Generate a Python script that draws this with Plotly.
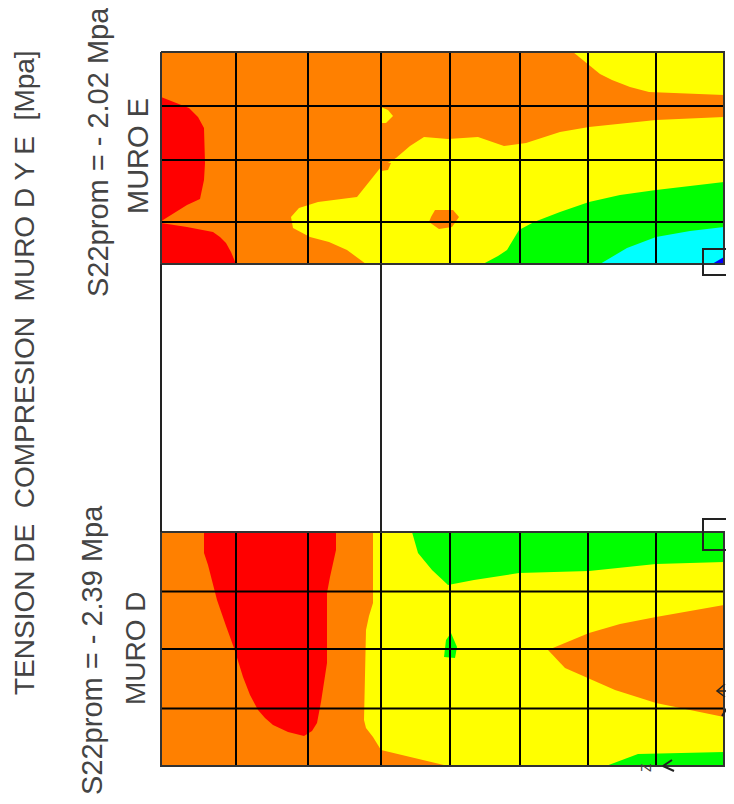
import plotly.graph_objects as go

ORANGE, RED, YELLOW, GREEN, CYAN, BLUE = "#ff8000", "#ff0000", "#ffff00", "#00ff00", "#00ffff", "#0000ff"

# ---- regions, in picture units (x across, y down) ----
E_base_x = [161, 724, 724, 161]
E_base_y = [52, 52, 264, 264]
E_red1_x = [161, 176, 189, 198, 204, 205, 204, 200, 187, 163, 161]
E_red1_y = [97, 103, 108, 117, 128, 163, 180, 199, 205, 220, 222]
E_red2_x = [161, 187, 213, 220, 226, 231, 236, 161]
E_red2_y = [223, 227, 232, 237, 243, 252, 264, 264]
E_yel_top_x = [573, 589, 600, 612, 630, 649, 724, 724]
E_yel_top_y = [52, 65, 74, 80, 87, 92, 95, 52]
E_yel_x = [366, 347, 329, 310, 293, 291, 299, 318, 357, 381, 396, 410, 424, 448, 478, 490, 504, 526, 560, 589, 656, 724, 724]
E_yel_y = [264, 250, 242, 237, 228, 217, 208, 202, 197, 167, 158, 146, 137, 139, 137, 141, 146, 143, 132, 127, 120, 117, 264]
E_grn_x = [483, 498, 507, 513, 519, 534, 560, 589, 620, 656, 724, 724]
E_grn_y = [264, 256, 250, 240, 230, 222, 212, 202, 195, 190, 182, 264]
E_cyn_x = [600, 627, 656, 690, 724, 724]
E_cyn_y = [264, 248, 237, 231, 227, 264]
E_blu_x = [712, 722, 724, 724]
E_blu_y = [264, 258, 257, 264]
E_blob_x = [431, 435, 453, 459, 452, 439, 429]
E_blob_y = [217, 210, 210, 217, 227, 229, 222]
E_ysp_x = [381, 388, 393, 386, 381]
E_ysp_y = [107, 110, 116, 123, 123]
E_bump_x = [381, 391, 388, 381]
E_bump_y = [162, 163, 170, 171]

D_base_x = [161, 724, 724, 161]
D_base_y = [532, 532, 766, 766]
D_yel_x = [373, 373, 369, 366, 364, 366, 373, 381, 448, 724, 724]
D_yel_y = [532, 603, 616, 630, 720, 728, 737, 750, 766, 766, 532]
D_red_x = [204, 204, 208, 211, 217, 226, 234, 243, 250, 258, 265, 273, 288, 304, 312, 317, 321, 327, 327, 330, 336, 336]
D_red_y = [532, 553, 565, 577, 600, 626, 648, 677, 695, 710, 718, 725, 732, 736, 731, 723, 702, 663, 593, 577, 550, 532]
D_grn_x = [412, 418, 432, 448, 474, 519, 589, 656, 724, 724]
D_grn_y = [532, 553, 570, 585, 580, 573, 571, 564, 562, 532]
D_org_x = [548, 589, 620, 656, 724, 724, 656, 615, 565]
D_org_y = [650, 633, 624, 617, 605, 717, 703, 690, 668]
D_spot_x = [451, 457, 455, 444, 446]
D_spot_y = [633, 647, 658, 657, 640]
D_gbot_x = [606, 638, 724, 724]
D_gbot_y = [766, 754, 752, 766]

mesh_x = [236, 308, 381, 450, 520, 588, 656]
E_mesh_y = [106, 160, 222]
D_mesh_y = [591.5, 649, 708.5]
wall_left, wall_right = 161, 724
E_top, E_bot, D_top, D_bot = 52, 264, 532, 766

box_x = [734, 703, 703, 734, 734]
box1_y = [249, 249, 275, 275, 249]
box2_y = [519, 519, 550, 550, 519]

fig = go.Figure()

def region(x, y, color):
    fig.add_trace(go.Scatter(x=x, y=y, mode="lines", fill="toself", fillcolor=color,
                             line=dict(width=0, color=color), hoverinfo="skip", showlegend=False))

def stroke(x, y, color="#000000", width=2):
    fig.add_trace(go.Scatter(x=x, y=y, mode="lines", line=dict(color=color, width=width),
                             hoverinfo="skip", showlegend=False))

for x, y, c in [
    (E_base_x, E_base_y, ORANGE), (E_red1_x, E_red1_y, RED), (E_red2_x, E_red2_y, RED),
    (E_yel_top_x, E_yel_top_y, YELLOW), (E_yel_x, E_yel_y, YELLOW), (E_grn_x, E_grn_y, GREEN),
    (E_cyn_x, E_cyn_y, CYAN), (E_blu_x, E_blu_y, BLUE), (E_blob_x, E_blob_y, ORANGE),
    (E_ysp_x, E_ysp_y, YELLOW), (E_bump_x, E_bump_y, ORANGE),
    (D_base_x, D_base_y, ORANGE), (D_yel_x, D_yel_y, YELLOW), (D_red_x, D_red_y, RED),
    (D_grn_x, D_grn_y, GREEN), (D_org_x, D_org_y, ORANGE), (D_spot_x, D_spot_y, GREEN),
    (D_gbot_x, D_gbot_y, GREEN),
]:
    region(x, y, c)

# mesh
for mx in mesh_x:
    stroke([mx, mx], [E_top, E_bot])
    stroke([mx, mx], [D_top, D_bot])
for my in E_mesh_y + D_mesh_y:
    stroke([wall_left, wall_right], [my, my])
# outlines
stroke([wall_left, wall_right, wall_right, wall_left, wall_left], [E_top, E_top, E_bot, E_bot, E_top], "#333333")
stroke([wall_left, wall_right, wall_right, wall_left, wall_left], [D_top, D_top, D_bot, D_bot, D_top], "#333333")
stroke([wall_left, wall_left], [E_bot, D_top], "#222222")
stroke([381, 381], [E_bot, D_top], "#222222")
stroke(box_x, box1_y, "#222222")
stroke(box_x, box2_y, "#222222")
# local-axis ticks
stroke([717, 734], [691, 691], "#222222", 1.5)
stroke([725, 717, 725], [684, 691, 697], "#222222", 1.5)
stroke([722, 727, 730], [716, 708, 716], "#222222", 2)
stroke([672, 663, 674], [760, 766, 771], "#222222", 2)

FONT = "Liberation Sans, Arial, sans-serif"
labels = [
    (24, 373, "TENSION DE\u00a0 COMPRESION\u00a0 MURO D Y E\u00a0 [Mpa]", 28),
    (98, 152, "S22prom = - 2.02 Mpa", 29),
    (138, 156, "MURO E", 29),
    (92, 650, "S22prom = - 2.39 Mpa", 29),
    (135, 648, "MURO D", 28),
    (646, 768, "Z", 14),
]
for x, y, t, s in labels:
    fig.add_annotation(x=x, y=y, text=t, textangle=-90, showarrow=False, xref="x", yref="y",
                       font=dict(family=FONT, size=s, color="#444444"), xanchor="center", yanchor="middle")

# The page keeps an 8 px margin, so the figure covers the remaining 726 x 796 px.
fig.update_xaxes(range=[8, 734], visible=False, fixedrange=True)
fig.update_yaxes(range=[804, 8], visible=False, fixedrange=True)
fig.update_layout(width=726, height=796, margin=dict(l=0, r=0, t=0, b=0),
                  paper_bgcolor="white", plot_bgcolor="white", showlegend=False)
fig.write_html("out.html", config={"displayModeBar": False})
